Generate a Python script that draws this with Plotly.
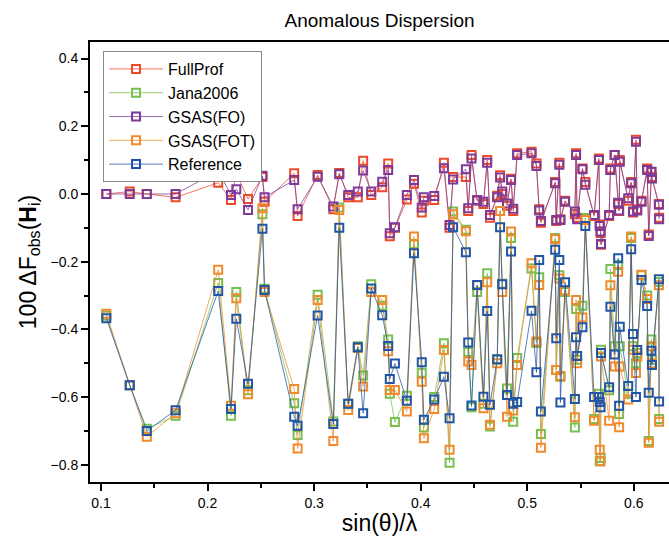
import plotly.graph_objects as go

x = [0.105, 0.127, 0.143, 0.170, 0.210, 0.222, 0.227, 0.238, 0.2515, 0.2535,
     0.2813, 0.2845, 0.3033, 0.318, 0.3236, 0.332, 0.341, 0.346, 0.3536, 0.3639,
     0.3695, 0.371, 0.3758, 0.387, 0.3937, 0.401, 0.403, 0.4127, 0.4218, 0.4271,
     0.4304, 0.4424, 0.4446, 0.4477, 0.453, 0.4589, 0.4624, 0.465, 0.4718, 0.4745,
     0.4765, 0.481, 0.4848, 0.4868, 0.4905, 0.504, 0.5086, 0.5112, 0.5128, 0.5262,
     0.5272, 0.5301, 0.5311, 0.5355, 0.5447, 0.5458, 0.5468, 0.5518, 0.5545, 0.5627,
     0.5672, 0.568, 0.5688, 0.5692, 0.5768, 0.578, 0.582, 0.5853, 0.5862, 0.5868,
     0.5947, 0.5975, 0.5992, 0.602, 0.6032, 0.6072, 0.6125, 0.614, 0.6165, 0.617,
     0.6235, 0.6237]

fullprof = [0.0, 0.007, 0.0, -0.01, 0.033, -0.018, 0.061, -0.015, 0.05, -0.023,
            0.061, -0.065, 0.056, -0.045, 0.062, -0.01, -0.01, 0.098, -0.003, 0.02,
            0.09, -0.125, -0.1, -0.016, 0.03, -0.055, -0.02, -0.018, 0.092, -0.1,
            0.05, 0.05, -0.05, 0.115, -0.02, -0.03, 0.1, -0.07, -0.005, 0.055,
            0.0, -0.035, 0.045, -0.05, 0.12, 0.125, 0.09, -0.045, -0.085, 0.035,
            -0.08, 0.092, -0.075, -0.02, -0.06, 0.12, -0.07, 0.075, 0.035, -0.065,
            0.105, -0.09, -0.115, -0.15, -0.065, 0.075, 0.115, -0.03, -0.05, 0.1,
            -0.02, 0.035, -0.055, 0.16, -0.045, -0.02, 0.075, -0.12, 0.065, 0.05,
            -0.03, -0.07]

jana = [-0.36, -0.565, -0.694, -0.655, -0.263, -0.655, -0.29, -0.58, -0.06, -0.28,
        -0.618, -0.712, -0.298, -0.672, -0.04, -0.62, -0.45, -0.536, -0.267, -0.33,
        -0.43, -0.59, -0.674, -0.596, -0.148, -0.528, -0.69, -0.6, -0.441, -0.794,
        -0.052, -0.106, -0.467, -0.63, -0.29, -0.62, -0.234, -0.687, -0.49, -0.05,
        -0.265, -0.575, -0.13, -0.673, -0.485, -0.22, -0.44, -0.246, -0.709, -0.13,
        -0.52, -0.24, -0.54, -0.29, -0.69, -0.34, -0.49, -0.33, -0.071, -0.665,
        -0.59, -0.79, -0.78, -0.46, -0.58, -0.222, -0.45, -0.21, -0.65, -0.45,
        -0.59, -0.13, -0.45, -0.5, -0.47, -0.24, -0.3, -0.73, -0.43, -0.49,
        -0.26, -0.665]

gsas_fo = [0.0, 0.0, 0.0, 0.0, 0.068, -0.003, 0.014, -0.047, 0.054, -0.01,
           0.041, -0.045, 0.051, -0.037, 0.058, -0.003, 0.007, 0.069, 0.007, 0.036,
           0.071, -0.116, -0.098, -0.003, 0.041, -0.04, -0.01, -0.006, 0.076, -0.092,
           0.043, 0.073, -0.042, 0.105, -0.018, -0.023, 0.092, -0.062, -0.01, 0.049,
           0.007, -0.028, 0.041, -0.044, 0.115, 0.12, 0.083, -0.049, -0.08, 0.032,
           -0.077, 0.086, -0.077, -0.023, -0.052, 0.115, -0.075, 0.073, 0.027, -0.062,
           0.1, -0.095, -0.111, -0.148, -0.062, 0.071, 0.115, -0.026, -0.049, 0.095,
           -0.013, 0.032, -0.052, 0.154, -0.049, -0.023, 0.071, -0.124, 0.066, 0.046,
           -0.032, -0.075]

gsas_fot = [-0.354, -0.565, -0.717, -0.648, -0.224, -0.626, -0.308, -0.592, -0.042, -0.29,
            -0.576, -0.752, -0.313, -0.73, -0.047, -0.638, -0.455, -0.569, -0.29, -0.313,
            -0.465, -0.579, -0.579, -0.643, -0.126, -0.555, -0.722, -0.635, -0.461, -0.756,
            -0.06, -0.11, -0.495, -0.505, -0.27, -0.633, -0.261, -0.682, -0.5, -0.05,
            -0.29, -0.658, -0.111, -0.64, -0.505, -0.205, -0.436, -0.269, -0.75, -0.134,
            -0.52, -0.25, -0.538, -0.285, -0.66, -0.313, -0.5, -0.365, -0.077, -0.67,
            -0.6, -0.756, -0.79, -0.48, -0.67, -0.27, -0.51, -0.23, -0.689, -0.51,
            -0.607, -0.126, -0.46, -0.529, -0.48, -0.239, -0.31, -0.735, -0.45, -0.5,
            -0.27, -0.673]

reference = [-0.367, -0.565, -0.7, -0.639, -0.287, -0.635, -0.369, -0.561, -0.103, -0.284,
             -0.658, -0.685, -0.359, -0.68, -0.1, -0.62, -0.453, -0.648, -0.279, -0.358,
             -0.449, -0.547, -0.501, -0.611, -0.175, -0.497, -0.667, -0.607, -0.54, -0.663,
             -0.098, -0.172, -0.439, -0.625, -0.269, -0.599, -0.346, -0.623, -0.488, -0.098,
             -0.267, -0.594, -0.17, -0.62, -0.615, -0.345, -0.527, -0.195, -0.643, -0.165,
             -0.426, -0.195, -0.616, -0.261, -0.606, -0.423, -0.479, -0.394, -0.095, -0.6,
             -0.6, -0.615, -0.63, -0.47, -0.571, -0.333, -0.474, -0.19, -0.626, -0.392,
             -0.567, -0.163, -0.414, -0.6, -0.461, -0.254, -0.331, -0.587, -0.463, -0.505,
             -0.252, -0.613]

series = [
    ("FullProf", fullprof, "#EC4A2A", "rgba(236,74,42,0.75)"),
    ("Jana2006", jana, "#76C04F", "rgba(118,192,79,0.75)"),
    ("GSAS(FO)", gsas_fo, "#7E3A98", "rgba(126,58,152,0.75)"),
    ("GSAS(FOT)", gsas_fot, "#F08A2C", "rgba(240,138,44,0.75)"),
    ("Reference", reference, "#2255A4", "rgba(34,85,164,0.75)"),
]

fig = go.Figure()
for name, vals, mcol, lcol in series:
    fig.add_trace(go.Scatter(
        x=x, y=vals, name=name, mode="lines+markers",
        line=dict(color=lcol, width=1),
        marker=dict(symbol="square-open", size=8, color=mcol,
                    line=dict(color=mcol, width=2)),
    ))

font = "Arial, Liberation Sans, sans-serif"
fig.update_layout(
    width=669, height=536,
    margin=dict(l=90, r=0, t=42, b=54),
    paper_bgcolor="white", plot_bgcolor="white",
    font=dict(family=font, color="black", size=14),
    title=dict(text="Anomalous Dispersion", x=0.5, xref="paper",
               y=0.962, yref="container", xanchor="center", yanchor="middle",
               font=dict(size=19, family=font, color="black")),
    showlegend=True,
    legend=dict(x=0.0225, y=0.9795, xanchor="left", yanchor="top",
                bgcolor="white", bordercolor="#888888", borderwidth=1,
                font=dict(size=16, family=font), tracegroupgap=0,
                itemwidth=54),
)
fig.update_xaxes(
    range=[0.0897, 0.633], dtick=0.1, tick0=0.1, tickformat=".1f",
    showgrid=False, zeroline=False,
    showline=True, linecolor="black", linewidth=2, mirror=True,
    ticks="outside", ticklen=7, tickwidth=1.5, tickcolor="black",
    minor=dict(dtick=0.05, ticks="outside", ticklen=4, tickwidth=1.5, tickcolor="black"),
    tickfont=dict(size=14, family=font),
    title=dict(text="sin(θ)/λ", font=dict(size=23, family=font), standoff=4),
)
fig.update_yaxes(
    range=[-0.851, 0.449], dtick=0.2, tick0=0, tickformat=".1f",
    showgrid=False, zeroline=False,
    showline=True, linecolor="black", linewidth=2, mirror=False,
    ticks="outside", ticklen=7, tickwidth=1.5, tickcolor="black",
    minor=dict(dtick=0.1, ticks="outside", ticklen=4, tickwidth=1.5, tickcolor="black"),
    tickfont=dict(size=14, family=font),
    title=dict(text="100 ΔF<sub>obs</sub>(<b>H</b><sub>i</sub>)",
               font=dict(size=23, family=font), standoff=8),
)

fig.write_html("out.html")
